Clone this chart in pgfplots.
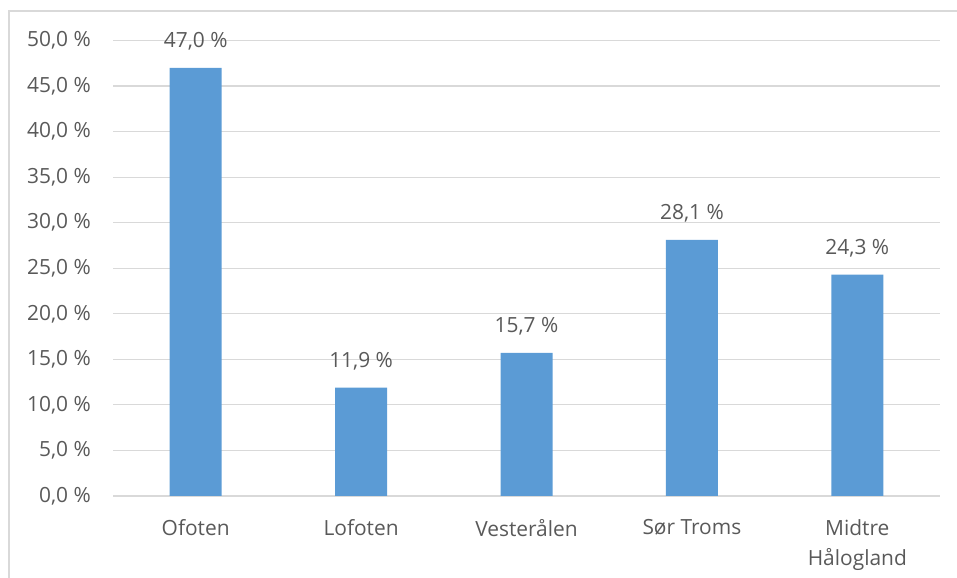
\documentclass[border=0pt]{standalone}
\usepackage{fontspec}
\setmainfont{Open Sans}
\usepackage{pgfplots}
\pgfplotsset{compat=1.18}

\definecolor{barblue}{HTML}{5B9BD5}
\definecolor{gridgray}{HTML}{D9D9D9}
\definecolor{textgray}{HTML}{595959}
\definecolor{framegray}{HTML}{D9D9D9}

\begin{document}
\begin{tikzpicture}[x=1bp,y=1bp]
\useasboundingbox (0,0) rectangle (957,578);
% outer chart frame (bottom and right are cut off)
\draw[framegray, line width=1.2bp] (9,0) -- (9,567) -- (957,567);
\begin{axis}[
  at={(113bp,82bp)}, anchor=south west,
  scale only axis,
  width=827bp, height=455.5bp,
  ybar, bar width=52bp,
  xmin=-0.5, xmax=4.5,
  ymin=0, ymax=50,
  ytick={0,5,...,50},
  xtick=data,
  xticklabels={Ofoten,Lofoten,Vesterålen,Sør Troms,{Midtre\\Hålogland}},
  axis line style={draw=none},
  major tick length=0,
  ymajorgrids,
  grid style={gridgray, line width=1.2bp},
  font=\fontsize{21}{30.5}\selectfont,
  every tick label/.append style={textgray, inner sep=0pt},
  xticklabel style={align=center, anchor=north, yshift=-23bp},
  yticklabel style={anchor=east, xshift=-22bp},
  /pgf/number format/.cd, use comma, fixed, fixed zerofill, precision=1, assume math mode=true,
  /pgfplots/.cd,
  yticklabel={\pgfmathprintnumber{\tick}~\%},
  nodes near coords={\pgfmathprintnumber{\pgfplotspointmeta}~\%},
  every node near coord/.append style={textgray, anchor=base, inner sep=0pt, yshift=20bp},
  clip=false,
]
\addplot[fill=barblue, draw=none] coordinates {
  (0,47.0) (1,11.9) (2,15.7) (3,28.1) (4,24.3)
};
\end{axis}
\end{tikzpicture}
\end{document}
